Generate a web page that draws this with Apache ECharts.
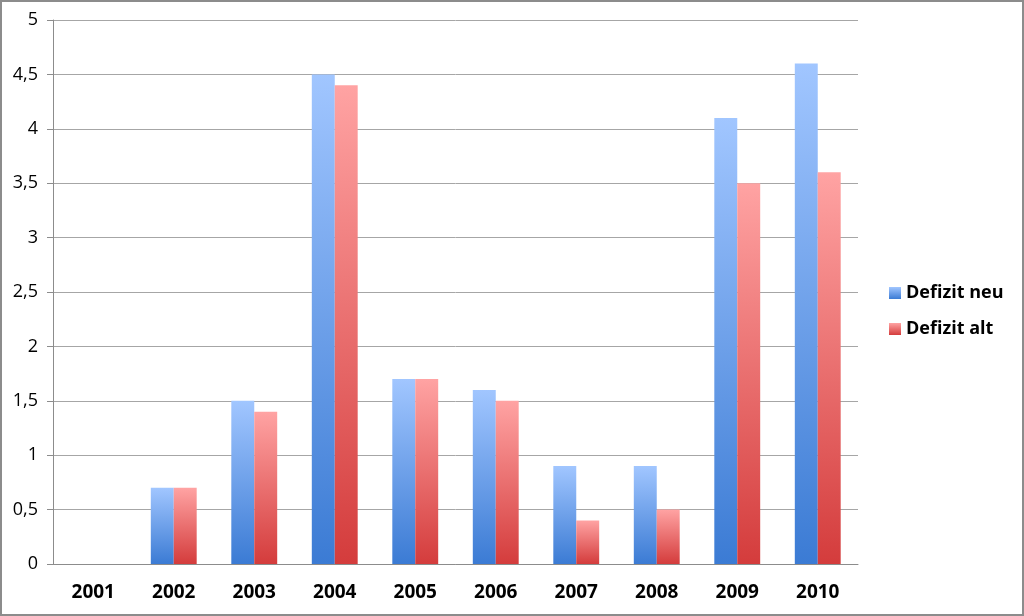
<!DOCTYPE html>
<html>
<head>
<meta charset="utf-8">
<script src="https://cdn.jsdelivr.net/npm/echarts@6/dist/echarts.min.js"></script>
<style>
  html, body { margin: 0; padding: 0; background: #fff; }
  #wrap { width: 1024px; height: 616px; box-sizing: border-box; border: 2px solid #8c8c8c; }
  #chart { width: 1020px; height: 612px; }
</style>
</head>
<body>
<div id="wrap"><div id="chart"></div></div>
<script>
var years = ['2001', '2002', '2003', '2004', '2005', '2006', '2007', '2008', '2009', '2010'];
var defizitNeu = [0, 0.7, 1.5, 4.5, 1.7, 1.6, 0.9, 0.9, 4.1, 4.6];
var defizitAlt = [0, 0.7, 1.4, 4.4, 1.7, 1.5, 0.4, 0.5, 3.5, 3.6];

function grad(top, bottom) {
  return new echarts.graphic.LinearGradient(0, 0, 0, 1, [
    {offset: 0, color: top},
    {offset: 1, color: bottom}
  ]);
}

var font = 'Open Sans, Lato, DejaVu Sans, sans-serif';
var chart = echarts.init(document.getElementById('chart'));
chart.setOption({
  animation: false,
  backgroundColor: '#fff',
  grid: {left: 51, right: 164, top: 18, bottom: 50},
  legend: {
    orient: 'vertical',
    left: 882,
    top: 277,
    itemWidth: 12,
    itemHeight: 12,
    itemGap: 18,
    icon: 'rect',
    textStyle: {fontFamily: font, fontSize: 18, fontWeight: 'bold', color: '#000'},
    data: ['Defizit neu', 'Defizit alt']
  },
  xAxis: {
    type: 'category',
    data: years,
    axisLine: {lineStyle: {color: '#8c8c8c', width: 1}},
    axisTick: {length: 6, lineStyle: {color: '#8c8c8c'}},
    axisLabel: {margin: 19, fontFamily: font, fontSize: 19, fontWeight: 'bold', color: '#000'}
  },
  yAxis: {
    type: 'value',
    min: 0,
    max: 5,
    interval: 0.5,
    axisLine: {show: true, lineStyle: {color: '#8c8c8c', width: 1}},
    axisTick: {show: true, length: 6, lineStyle: {color: '#8c8c8c'}},
    splitLine: {lineStyle: {color: '#a6a6a6', width: 1}},
    axisLabel: {
      margin: 15,
      fontFamily: font,
      fontSize: 18,
      color: '#000',
      formatter: function (v) { return String(v).replace('.', ','); }
    }
  },
  series: [
    {
      name: 'Defizit neu',
      type: 'bar',
      data: defizitNeu,
      barGap: '0%',
      barCategoryGap: '43%',
      itemStyle: {color: grad('#a1c6ff', '#3b7bd4')}
    },
    {
      name: 'Defizit alt',
      type: 'bar',
      data: defizitAlt,
      itemStyle: {color: grad('#ffa3a3', '#d43c3c')}
    }
  ]
});
</script>
</body>
</html>
